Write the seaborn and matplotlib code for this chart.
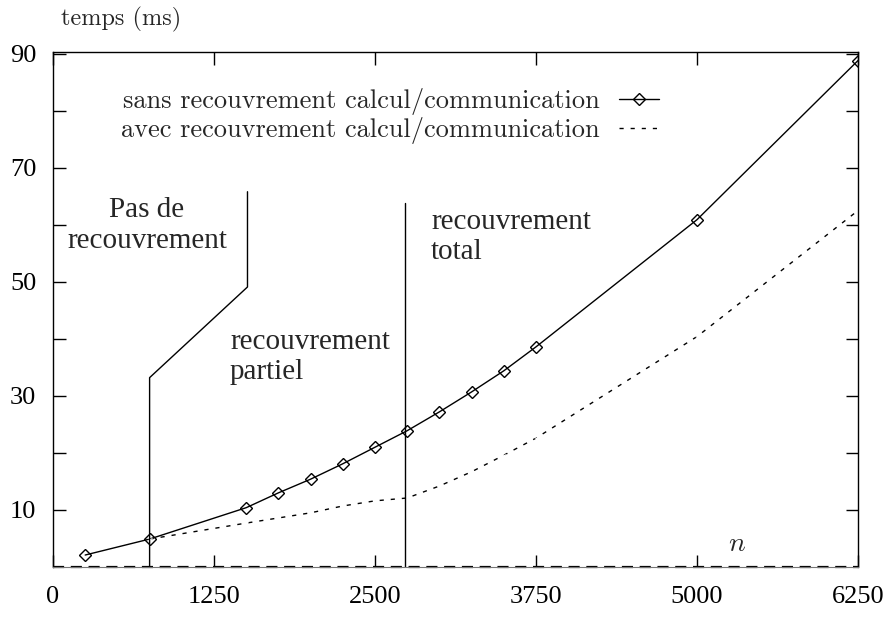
import matplotlib
matplotlib.use("Agg")
import matplotlib.pyplot as plt
import seaborn as sns
import pandas as pd
from matplotlib.ticker import FixedLocator

# ---- data ----
n_sans = [250, 750, 1500, 1750, 2000, 2250, 2500, 2750, 3000, 3250, 3500, 3750, 5000, 6250]
t_sans = [2.1, 4.9, 10.4, 13.0, 15.4, 18.1, 21.0, 23.9, 27.2, 30.7, 34.4, 38.6, 60.9, 88.8]
n_avec = [750, 1500, 1750, 2000, 2250, 2500, 2750, 3000, 3250, 3500, 3750, 5000, 6250]
t_avec = [4.9, 7.7, 8.6, 9.5, 10.7, 11.6, 12.1, 14.2, 16.7, 19.6, 22.6, 40.4, 62.5]
label_sans = "sans recouvrement calcul/communication"
label_avec = "avec recouvrement calcul/communication"

x_ticks = [0, 1250, 2500, 3750, 5000, 6250]
y_ticklabels = [10, 30, 50, 70, 90]

# region boundaries (annotation polylines)
bound1_x = [750, 750, 1510, 1510]
bound1_y = [0, 33.2, 49.1, 65.8]
bound2_x = [2730, 2730]
bound2_y = [0, 63.9]

sns.set_theme(style="white")
plt.rcParams["font.family"] = ["Liberation Serif", "DejaVu Serif"]
plt.rcParams["mathtext.fontset"] = "cm"

fig = plt.figure(figsize=(8.9, 6.18), dpi=100)
ax = fig.add_axes([53/890, 1-567/618, (858-53)/890, (567-52)/618])

df_sans = pd.DataFrame({"n": n_sans, "t": t_sans})
df_avec = pd.DataFrame({"n": n_avec, "t": t_avec})

sns.lineplot(data=df_sans, x="n", y="t", ax=ax, color="black", lw=1.0,
             marker="D", markersize=6.5, markerfacecolor="none",
             markeredgecolor="black", markeredgewidth=1.0, label=label_sans)
sns.lineplot(data=df_avec, x="n", y="t", ax=ax, color="black", lw=1.0,
             linestyle=(0, (3, 5)), marker="1", markersize=4,
             markeredgewidth=0.8, label=label_avec)

# boundaries
ax.plot(bound1_x, bound1_y, color="black", lw=1.0)
ax.plot(bound2_x, bound2_y, color="black", lw=1.0)

ax.set_xlim(0, 6250)
ax.set_ylim(0, 90.3)

ax.xaxis.set_major_locator(FixedLocator(x_ticks))
ax.set_xticklabels([str(v) for v in x_ticks])
ax.yaxis.set_major_locator(FixedLocator(y_ticklabels))
ax.set_yticklabels([str(v) for v in y_ticklabels])
ax.yaxis.set_minor_locator(FixedLocator([20, 40, 60, 80]))

ax.tick_params(axis="both", which="both", direction="in", length=9, width=1.0,
               top=True, right=True, bottom=True, left=True, color="black",
               labelsize=19, labelcolor="black")
ax.tick_params(axis="y", pad=12)
ax.tick_params(axis="x", pad=14)

for side in ["top", "left", "right"]:
    ax.spines[side].set_color("black")
    ax.spines[side].set_linewidth(1.0)
ax.spines["bottom"].set_color("#777777")
ax.spines["bottom"].set_linewidth(0.8)
ax.axhline(0, color="black", lw=1.6, linestyle=(0, (5, 3)), clip_on=False)

ax.set_xlabel("")
ax.set_ylabel("")

# annotations
ax.text(730, 59.8, "Pas de\nrecouvrement", ha="center", va="center",
        fontsize=21, linespacing=1.25)
ax.text(1374, 36.8, "recouvrement\npartiel", ha="left", va="center",
        fontsize=21, linespacing=1.2)
ax.text(2935, 57.9, "recouvrement\ntotal", ha="left", va="center",
        fontsize=21, linespacing=1.2)
ax.text(5311, 3.9, "$n$", ha="center", va="center", fontsize=20)

fig.text(121/890, 1-19/618, "temps (ms)", ha="center", va="center",
         fontsize=17.5, family=["cmr10", "DejaVu Serif"])

leg = ax.legend(loc="upper left", bbox_to_anchor=((121-53)/805, (567-88)/515),
                frameon=False, markerfirst=False,
                prop={"family": ["cmr10", "DejaVu Serif"], "size": 19},
                borderpad=0, handlelength=1.5, handletextpad=0.75,
                labelspacing=0.08, borderaxespad=0)

fig.savefig("out.png", dpi=100)
